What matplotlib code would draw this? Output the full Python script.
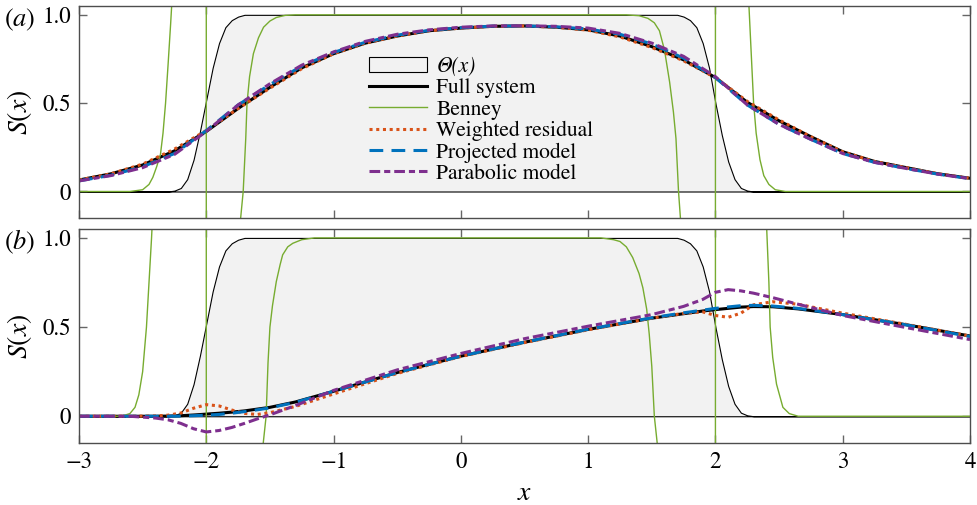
import numpy as np
import matplotlib
matplotlib.use('Agg')
import matplotlib.pyplot as plt

plt.rcParams['font.family'] = ['STIXGeneral', 'DejaVu Serif']
plt.rcParams['mathtext.fontset'] = 'stix'
plt.rcParams['font.size'] = 16.5

# step function Theta(x), same in both panels
theta_x = [-3, -2.3, -2.25, -2.2, -2.15, -2.1, -2.05, -2.0, -1.95, -1.9, -1.85, -1.8, -1.75, -1.7,
           1.7, 1.75, 1.8, 1.85, 1.9, 1.95, 2.0, 2.05, 2.1, 2.15, 2.2, 2.25, 2.3, 4]
theta_y = [0, 0, 0.005, 0.02, 0.07, 0.18, 0.34, 0.52, 0.70, 0.84, 0.93, 0.97, 0.99, 1.0,
           1.0, 0.99, 0.97, 0.93, 0.84, 0.70, 0.50, 0.32, 0.17, 0.07, 0.02, 0.005, 0, 0]

# panel (a)
xa = [-3, -2.75, -2.5, -2.25, -2.0, -1.75, -1.5, -1.25, -1.0, -0.75, -0.5, -0.25, 0, 0.25, 0.5,
      0.75, 1.0, 1.25, 1.5, 1.75, 2.0, 2.25, 2.5, 2.75, 3.0, 3.25, 3.5, 3.75, 4.0]
full_a = [0.065, 0.10, 0.15, 0.23, 0.34, 0.47, 0.59, 0.70, 0.78, 0.84, 0.88, 0.91, 0.925, 0.935, 0.937,
          0.93, 0.915, 0.88, 0.82, 0.745, 0.645, 0.505, 0.40, 0.31, 0.225, 0.17, 0.135, 0.10, 0.075]
weighted_a = [0.065, 0.10, 0.155, 0.24, 0.345, 0.47, 0.585, 0.695, 0.78, 0.84, 0.88, 0.91, 0.925, 0.935, 0.937,
              0.93, 0.913, 0.875, 0.815, 0.74, 0.645, 0.51, 0.405, 0.31, 0.225, 0.17, 0.135, 0.10, 0.075]
projected_a = [0.06, 0.092, 0.14, 0.215, 0.345, 0.49, 0.605, 0.71, 0.787, 0.845, 0.885, 0.912, 0.927, 0.936, 0.937,
               0.932, 0.92, 0.89, 0.835, 0.755, 0.645, 0.49, 0.38, 0.295, 0.215, 0.165, 0.13, 0.098, 0.073]
parabolic_a = [0.06, 0.09, 0.135, 0.21, 0.34, 0.49, 0.61, 0.715, 0.79, 0.85, 0.89, 0.915, 0.93, 0.937, 0.938,
               0.935, 0.925, 0.895, 0.84, 0.765, 0.65, 0.49, 0.38, 0.295, 0.215, 0.165, 0.13, 0.098, 0.073]

benney_a_x = [-3, -2.6, -2.5, -2.45, -2.42, -2.39, -2.36, -2.34, -2.32, -2.30, -2.28, -2.26, -2.2, -2.1, -2.0,
              -2.0, -1.9, -1.8, -1.75, -1.73, -1.71, -1.69, -1.68, -1.66, -1.63, -1.59, -1.55, -1.5, -1.45,
              -1.38, -1.3, 1.3, 1.4, 1.47, 1.52, 1.56, 1.6, 1.64, 1.67, 1.69, 1.71, 1.73, 1.8, 1.9, 2.0,
              2.0, 2.1, 2.2, 2.26, 2.28, 2.30, 2.32, 2.35, 2.38, 2.42, 2.47, 2.55, 4]
benney_a_y = [0, 0, 0.01, 0.04, 0.08, 0.14, 0.21, 0.33, 0.5, 0.72, 0.95, 1.2, 2.5, 6, 50,
              -50, -4, -1, -0.4, -0.15, 0.0, 0.3, 0.5, 0.65, 0.78, 0.87, 0.93, 0.965, 0.985,
              0.997, 1.0, 1.0, 0.995, 0.98, 0.955, 0.91, 0.8, 0.62, 0.45, 0.3, 0.0, -0.2, -1, -4, -50,
              50, 4, 1.8, 1.1, 0.8, 0.5, 0.33, 0.18, 0.09, 0.04, 0.01, 0.0, 0]

# panel (b)
xb = [-3, -2.6, -2.4, -2.3, -2.2, -2.1, -2.0, -1.9, -1.8, -1.7, -1.6, -1.5, -1.3, -1.0, -0.5, 0,
      0.5, 1.0, 1.5, 1.75, 1.9, 2.0, 2.1, 2.2, 2.3, 2.45, 2.65, 3.0, 3.5, 4.0]
full_b = [0, 0, 0.0, 0.001, 0.003, 0.007, 0.012, 0.017, 0.023, 0.03, 0.04, 0.05, 0.08, 0.14, 0.245, 0.337,
          0.415, 0.487, 0.55, 0.575, 0.59, 0.598, 0.605, 0.612, 0.615, 0.614, 0.602, 0.57, 0.513, 0.45]
weighted_b = [0, 0, 0.002, 0.006, 0.018, 0.045, 0.065, 0.058, 0.035, 0.016, 0.01, 0.02, 0.055, 0.125, 0.24, 0.335,
              0.413, 0.485, 0.55, 0.577, 0.585, 0.565, 0.555, 0.578, 0.625, 0.642, 0.628, 0.578, 0.515, 0.45]
projected_b = [0, 0, 0, 0, 0.001, 0.003, 0.006, 0.01, 0.017, 0.026, 0.036, 0.047, 0.078, 0.14, 0.245, 0.337,
               0.416, 0.488, 0.552, 0.58, 0.595, 0.605, 0.613, 0.62, 0.622, 0.618, 0.605, 0.57, 0.512, 0.447]
parabolic_b = [0, 0, -0.01, -0.02, -0.04, -0.07, -0.088, -0.08, -0.063, -0.04, -0.015, 0.008, 0.06, 0.145, 0.26, 0.352,
               0.435, 0.505, 0.57, 0.616, 0.655, 0.695, 0.71, 0.703, 0.69, 0.665, 0.628, 0.565, 0.497, 0.43]

benney_b_x = [-3, -2.7, -2.65, -2.6, -2.56, -2.53, -2.50, -2.47, -2.45, -2.43, -2.41, -2.3, -2.15, -2.0,
              -2.0, -1.8, -1.65, -1.56, -1.53, -1.515, -1.50, -1.48, -1.45, -1.42, -1.40, -1.36, -1.32, -1.25,
              -1.15, 1.1, 1.2, 1.25, 1.3, 1.35, 1.4, 1.43, 1.46, 1.48, 1.50, 1.52, 1.55, 1.7, 1.85, 2.0,
              2.0, 2.15, 2.3, 2.40, 2.42, 2.43, 2.45, 2.48, 2.53, 2.58, 2.65, 4]
benney_b_y = [0, 0, 0.004, 0.015, 0.05, 0.12, 0.25, 0.5, 0.75, 1.0, 1.3, 3, 8, 50,
              -50, -3, -0.8, -0.2, 0.0, 0.3, 0.5, 0.62, 0.755, 0.85, 0.905, 0.95, 0.97, 0.99,
              1.0, 1.0, 0.99, 0.98, 0.95, 0.89, 0.8, 0.72, 0.6, 0.46, 0.28, 0.0, -0.2, -1.5, -5, -50,
              50, 5, 1.8, 1.1, 0.75, 0.5, 0.33, 0.18, 0.05, 0.015, 0.0, 0]

green = '#77ac30'
orange = '#d95319'
blue = '#0072bd'
purple = '#7e2f8e'

fig = plt.figure(figsize=(9.78, 5.05), dpi=100)
ax_a = fig.add_axes([79 / 978, 1 - 218 / 505, 891 / 978, 212 / 505])
ax_b = fig.add_axes([79 / 978, 1 - 443 / 505, 891 / 978, 214 / 505])

panels = [
    (ax_a, xa, full_a, weighted_a, projected_a, parabolic_a, benney_a_x, benney_a_y),
    (ax_b, xb, full_b, weighted_b, projected_b, parabolic_b, benney_b_x, benney_b_y),
]

for ax, x, full, wr, proj, para, bx, by in panels:
    ax.fill_between(theta_x, theta_y, 0, facecolor='#f2f2f2', edgecolor='black', linewidth=0.8,
                    label='Θ(x)')
    ax.plot(x, full, color='black', lw=2.2, label='Full system')
    ax.plot(bx, by, color=green, lw=1.0, label='Benney')
    ax.plot(x, wr, color=orange, lw=2.2, linestyle=(0, (1, 1.2)), label='Weighted residual')
    ax.plot(x, proj, color=blue, lw=2.2, linestyle=(0, (4.5, 2.7)), label='Projected model')
    ax.plot(x, para, color=purple, lw=2.2, linestyle=(0, (3.5, 1.3, 2, 1.3)), label='Parabolic model')

    ax.set_xlim(-3, 4)
    ax.set_ylim(-0.15, 1.05)
    ax.set_xticks([-3, -2, -1, 0, 1, 2, 3, 4])
    ax.set_yticks([0, 0.5, 1.0])
    ax.set_yticklabels(['0', '0.5', '1.0'])
    ax.tick_params(direction='in', length=6, width=1, color='0.4', top=True, right=True, pad=6)
    for sp in ax.spines.values():
        sp.set_color('0.3')
        sp.set_linewidth(1.0)
    ax.set_ylabel(r'$S(x)$', fontsize=20, labelpad=6)

ax_a.tick_params(labelbottom=False)
ax_b.set_xlabel(r'$x$', fontsize=20, labelpad=6)

leg = ax_a.legend(loc='upper left', bbox_to_anchor=(0.325, 0.765), frameon=False, handlelength=2.7,
                  handletextpad=0.45, labelspacing=0.06, borderpad=0, borderaxespad=0, fontsize=15.5)
leg.get_texts()[0].set_fontstyle('italic')

fig.text(4 / 978, 1 - 20 / 505, r'$(a)$', va='center', ha='left', fontsize=19)
fig.text(4 / 978, 1 - 242 / 505, r'$(b)$', va='center', ha='left', fontsize=19)

plt.savefig('out.png', dpi=100)
